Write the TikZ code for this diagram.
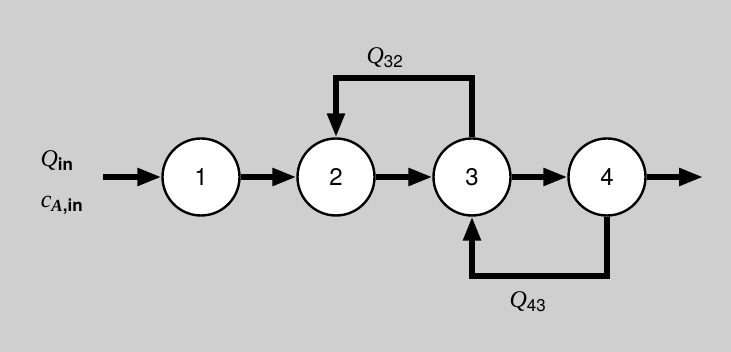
\documentclass[tikz,border=0pt]{standalone}
\usepackage{fontspec}
\setmainfont{TeX Gyre Heros}
\newfontfamily\varfont{Liberation Serif}
\usetikzlibrary{arrows.meta}
\newcommand{\qvar}[1]{{\varfont\itshape #1}}
\begin{document}
\begin{tikzpicture}[x=1pt,y=-1pt,
  tank/.style={circle,draw=black,line width=2.4pt,fill=white,minimum size=77pt,inner sep=0pt,font=\fontsize{24}{26}\selectfont},
  flow/.style={line width=5.5pt,-{Triangle[length=24pt,width=17pt]}},
  lbl/.style={font=\fontsize{24}{26}\selectfont,inner sep=0pt}]
  % page and backdrop
  \fill[black!19] (0,0) rectangle (731,352);
  \useasboundingbox (0,0) rectangle (731,352);
  % tanks
  \node[tank] (t1) at (201,177) {1};
  \node[tank] (t2) at (336,177) {2};
  \node[tank] (t3) at (472,177) {3};
  \node[tank] (t4) at (607,177) {4};
  % free ends of feed and product lines
  \coordinate (feed) at (103,177);
  \coordinate (prod) at (703,177);
  % forward flow
  \draw[flow] (feed) -- (t1);
  \draw[flow] (t1) -- (t2);
  \draw[flow] (t2) -- (t3);
  \draw[flow] (t3) -- (t4);
  \draw[flow] (t4) -- (prod);
  % recycle streams
  \draw[flow] (t3.north) |- (336,78) -- (t2.north);
  \draw[flow] (t4.south) |- (472,276) -- (t3.south);
  % labels
  \node[lbl] (qin) at (57,161) {\qvar{Q}\textsubscript{\bfseries\fontsize{17}{18}\selectfont in}};
  \node[lbl] (cain) at (62,205) {\qvar{c}\textsubscript{\bfseries\fontsize{17}{18}\selectfont\qvar{A},in}};
  \node[lbl] (q32) at (385,58) {\qvar{Q}\textsubscript{\fontsize{17}{18}\selectfont 32}};
  \node[lbl] (q43) at (528,302) {\qvar{Q}\textsubscript{\fontsize{17}{18}\selectfont 43}};
\end{tikzpicture}
\end{document}
